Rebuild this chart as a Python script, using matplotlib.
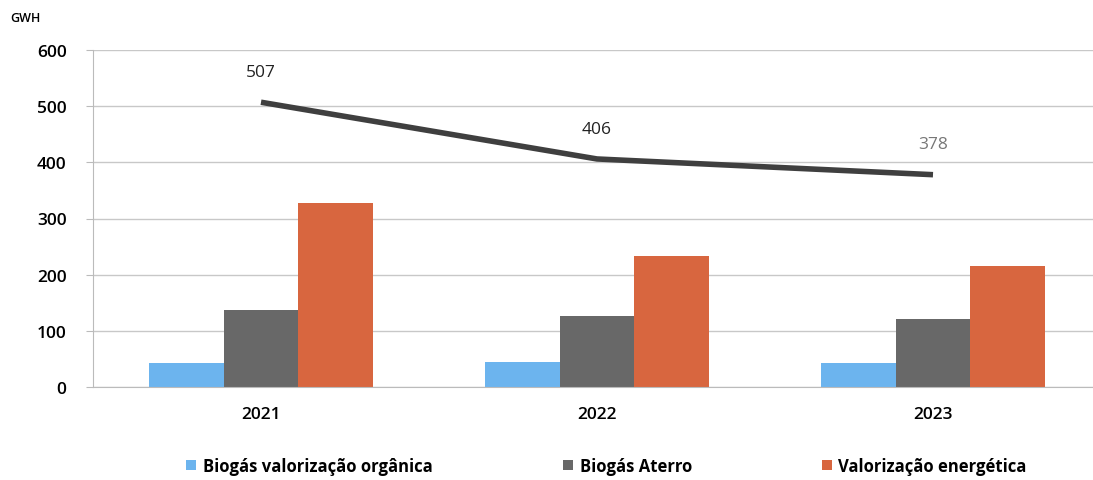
import matplotlib
matplotlib.use("Agg")
import matplotlib.pyplot as plt
import numpy as np

# Energy recovered from waste, GWh per year
years = ["2021", "2022", "2023"]
biogas_organica = [42, 45, 42]
biogas_aterro = [137, 127, 121]
valorizacao_energetica = [328, 234, 215]
totals = [507, 406, 378]

series_names = ["Biogás valorização orgânica", "Biogás Aterro", "Valorização energética"]
colors = ["#6cb4ee", "#686868", "#d8663f"]

plt.rcParams['font.family'] = ['Open Sans', 'DejaVu Sans']

fig = plt.figure(figsize=(10.93, 4.81), dpi=100)
ax = fig.add_axes([93 / 1093, 1 - 388 / 481, 1008 / 1093, 337 / 481])

x = np.arange(len(years))
w = 0.223
for i, (vals, name, c) in enumerate(zip([biogas_organica, biogas_aterro, valorizacao_energetica],
                                        series_names, colors)):
    ax.bar(x + (i - 1) * w, vals, width=w, color=c, label=name, zorder=2)

ax.plot(x, totals, color="#3f3f3f", linewidth=4, zorder=3, solid_capstyle="butt")
label_colors = ["#222222", "#222222", "#777777"]
for xi, t, lc in zip(x, totals, label_colors):
    ax.annotate(str(t), (xi, t), xytext=(0, 16), textcoords="offset points",
                ha="center", va="bottom", fontsize=12.5, color=lc)

ax.set_xlim(-0.5, 2.5)
ax.set_ylim(0, 600)
ax.set_yticks(range(0, 601, 100))
ax.set_xticks(x)
ax.set_xticklabels(years)
ax.yaxis.grid(True, color="#c8c8c8", linewidth=1, zorder=0)
ax.set_axisbelow(True)
for side in ["top", "right"]:
    ax.spines[side].set_visible(False)
ax.spines["left"].set_color("#bbbbbb")
ax.spines["bottom"].set_color("#bbbbbb")
ax.tick_params(axis="y", length=5, color="#bbbbbb", labelsize=12.5, pad=14)
ax.tick_params(axis="x", length=0, labelsize=12.5, pad=14)
for lab in ax.get_yticklabels() + ax.get_xticklabels():
    lab.set_fontweight("semibold")

fig.text(10 / 1093, 1 - 18 / 481, "GWH", fontsize=9, fontweight="semibold", va="center")

fig.legend(loc="center", bbox_to_anchor=(0.555, 1 - 467 / 481), ncol=3, frameon=False,
           handlelength=0.6, handleheight=0.6, handletextpad=0.4, columnspacing=7.8,
           prop={"size": 12, "weight": "bold"})

fig.savefig("out.png", dpi=100)
